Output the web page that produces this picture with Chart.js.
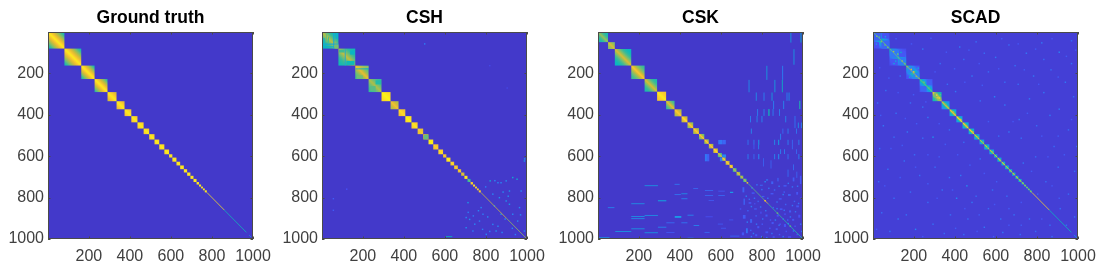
<!DOCTYPE html>
<html>
<head>
<meta charset="utf-8">
<title>Ground truth, CSH, CSK, SCAD</title>
<script src="https://cdn.jsdelivr.net/npm/chart.js@4/dist/chart.umd.min.js"></script>
<style>
  html, body { margin: 0; background: #fff; overflow: hidden; }
  #wrap { position: relative; width: 1105px; height: 275px; }
  canvas { position: absolute; top: 0; }
</style>
</head>
<body>
<div id="wrap"></div>
<script>
const panelTitles = ['Ground truth', 'CSH', 'CSK', 'SCAD'];
const tickValues = [200, 400, 600, 800, 1000];
const tickLabels = ['200', '400', '600', '800', '1000'];

// block ends along the diagonal (matrix index)
const sharedEnds = [81, 163, 228, 291, 335, 374, 407, 437, 467, 494, 520, 543, 568, 591, 607, 627, 645, 663, 679, 695, 710, 725, 737, 747, 756, 765, 775];
const cskEnds = [50, 83, 163, 228, 289, 333, 374, 408, 437, 465, 493, 519, 541, 563, 585, 605, 623, 642, 658, 676, 694, 709, 725, 733];

// value at the block corners and on the block diagonal
const gtCorner = [0.36, 0.38, 0.4, 0.44, 0.72, 0.76, 0.82, 0.84, 0.86, 0.86, 0.86, 0.88, 0.88, 0.88, 0.9, 0.9, 0.9, 0.9, 0.9, 0.92, 0.92, 0.92, 0.92, 0.94, 0.94, 0.94, 0.94];
const gtDiag = [0.98, 0.98, 0.98, 0.98, 0.98, 0.98, 0.98, 0.98, 0.98, 0.98, 0.98, 0.98, 0.98, 0.98, 0.98, 0.98, 0.98, 0.98, 0.98, 0.98, 0.98, 0.98, 0.98, 0.98, 0.98, 0.98, 0.98];
const cshCorner = [0.38, 0.42, 0.52, 0.5, 0.93, 0.7, 0.84, 0.93, 0.88, 0.82, 0.68, 0.95, 0.84, 0.88, 0.8, 0.92, 0.85, 0.82, 0.78, 0.7, 0.92, 0.45, 0.8, 0.9, 0.9, 0.86, 0.86];
const cshDiag = [0.72, 0.74, 0.82, 0.7, 1.0, 0.85, 0.95, 1.0, 0.97, 0.88, 0.82, 1.0, 0.9, 0.95, 0.9, 1.0, 0.95, 0.9, 0.9, 0.85, 1.0, 0.62, 0.95, 0.95, 0.95, 0.92, 0.9];
const cskCorner = [0.42, 0.62, 0.38, 0.5, 0.44, 0.86, 0.5, 0.68, 0.72, 0.62, 0.66, 0.56, 0.62, 0.66, 0.72, 0.5, 0.62, 0.7, 0.76, 0.52, 0.6, 0.56, 0.5, 0.7];
const cskDiag = [0.66, 0.78, 0.78, 0.88, 0.78, 0.98, 0.82, 0.9, 0.96, 0.9, 0.9, 0.88, 0.9, 0.9, 0.95, 0.78, 0.92, 0.92, 0.95, 0.72, 0.82, 0.78, 0.72, 0.92];
const scadCorner = [0.09, 0.09, 0.1, 0.1, 0.42, 0.2, 0.28, 0.26, 0.3, 0.3, 0.24, 0.22, 0.24, 0.24, 0.26, 0.3, 0.3, 0.28, 0.3, 0.32, 0.32, 0.32, 0.32, 0.4, 0.4, 0.4, 0.4];
const scadDiag = [0.52, 0.54, 0.68, 0.5, 0.96, 0.8, 0.88, 0.94, 0.9, 0.9, 0.8, 0.74, 0.78, 0.8, 0.84, 0.86, 0.86, 0.78, 0.86, 0.88, 0.88, 0.84, 0.9, 0.9, 0.9, 0.9, 0.9];

// thin diagonal runs, from, to, value
const gtRuns = [[775, 860, 0.95], [860, 968, 0.42], [982, 990, 0.3]];
const cshRuns = [[775, 900, 0.76], [900, 995, 0.66]];
const cskRuns = [[733, 810, 0.56], [810, 830, 0.86], [830, 900, 0.5], [900, 998, 0.46]];
const scadRuns = [[4, 80, 0.58], [84, 162, 0.6], [166, 228, 0.72], [230, 290, 0.58], [775, 860, 0.92], [860, 968, 0.4], [980, 995, 0.3]];

// rectangles off the blocks: x from, x to, y from, y to, value
const cshStreaks = [
  [2, 81, 57, 62, 0.3], [2, 58, 70, 74, 0.34], [56, 61, 2, 81, 0.3], [62, 81, 62, 81, 0.6],
  [20, 25, 10, 50, 0.58], [30, 35, 25, 56, 0.54], [8, 13, 30, 52, 0.34], [68, 76, 4, 34, 0.34],
  [112, 116, 85, 163, 0.3], [84, 110, 86, 100, 0.52], [120, 160, 140, 160, 0.42], [138, 160, 90, 110, 0.38],
  [165, 228, 168, 172, 0.86], [165, 228, 177, 181, 0.36], [170, 200, 210, 226, 0.6],
  [236, 262, 262, 286, 0.56], [262, 288, 234, 254, 0.46], [498, 518, 498, 518, 0.58],
  [603, 636, 987, 991, 0.4]
];
const cshSpeckles = [
  [817, 716, 0.32], [927, 700, 0.34], [895, 716, 0.22], [855, 725, 0.2], [948, 708, 0.36], [984, 620, 0.26],
  [709, 821, 0.26], [773, 845, 0.2], [700, 893, 0.2], [717, 902, 0.22], [765, 910, 0.18], [911, 765, 0.24],
  [862, 797, 0.22], [968, 765, 0.2], [838, 837, 0.22], [911, 829, 0.26], [700, 942, 0.22], [830, 926, 0.2],
  [846, 958, 0.22], [870, 877, 0.24], [927, 877, 0.2], [960, 845, 0.2], [53, 802, 0.12], [53, 858, 0.12],
  [498, 55, 0.18], [118, 756, 0.1], [798, 974, 0.2], [733, 958, 0.18], [782, 877, 0.18], [984, 958, 0.2],
  [830, 780, 0.2], [895, 813, 0.24], [951, 910, 0.2], [880, 770, 0.22], [905, 790, 0.22], [760, 860, 0.2],
  [742, 925, 0.2], [805, 890, 0.2], [855, 935, 0.2], [890, 900, 0.2], [925, 945, 0.2], [965, 880, 0.2],
  [710, 868, 0.18], [735, 885, 0.18], [780, 950, 0.18], [815, 960, 0.18], [875, 965, 0.2], [940, 975, 0.18],
  [985, 610, 0.26], [815, 160, 0.08], [900, 268, 0.08], [870, 725, 0.2], [795, 745, 0.18], [840, 715, 0.2]
];
const cskStreaks = [
  [939, 943, 3, 52, 0.3], [988, 992, 3, 52, 0.4], [954, 958, 84, 159, 0.28], [822, 826, 164, 232, 0.3],
  [899, 903, 164, 232, 0.2], [735, 739, 232, 292, 0.25], [861, 865, 232, 292, 0.3], [897, 901, 232, 292, 0.38],
  [770, 774, 293, 333, 0.25], [808, 812, 293, 333, 0.2], [847, 851, 293, 333, 0.3], [920, 924, 293, 333, 0.2],
  [930, 934, 293, 333, 0.25], [855, 859, 333, 373, 0.2], [904, 908, 333, 373, 0.22], [982, 987, 333, 373, 0.45],
  [777, 781, 373, 406, 0.2], [808, 812, 373, 406, 0.22], [831, 837, 373, 406, 0.42], [852, 856, 373, 406, 0.2],
  [884, 888, 373, 406, 0.2], [742, 746, 406, 437, 0.2], [774, 778, 406, 437, 0.22], [798, 802, 406, 437, 0.22],
  [914, 918, 406, 437, 0.22], [959, 963, 406, 465, 0.18], [975, 979, 438, 465, 0.25], [990, 994, 438, 465, 0.2],
  [746, 750, 467, 492, 0.22], [900, 904, 467, 492, 0.15], [925, 929, 467, 492, 0.2], [966, 970, 467, 492, 0.18],
  [889, 893, 492, 521, 0.2], [730, 734, 521, 546, 0.18], [759, 763, 521, 546, 0.18], [782, 787, 521, 546, 0.25],
  [860, 864, 521, 546, 0.25], [879, 884, 521, 546, 0.28], [925, 929, 521, 546, 0.2], [946, 950, 521, 546, 0.15],
  [978, 982, 521, 546, 0.2], [759, 763, 546, 567, 0.12], [782, 786, 546, 567, 0.2], [889, 893, 567, 590, 0.2],
  [908, 912, 567, 590, 0.2], [966, 970, 567, 590, 0.15], [946, 950, 546, 567, 0.15], [730, 734, 590, 615, 0.2],
  [759, 763, 590, 615, 0.15], [782, 787, 590, 615, 0.2], [860, 864, 590, 615, 0.22], [879, 884, 590, 615, 0.22],
  [925, 929, 590, 615, 0.18], [978, 982, 590, 615, 0.2], [806, 810, 610, 650, 0.14], [842, 846, 620, 660, 0.14],
  [952, 956, 640, 668, 0.16], [925, 929, 665, 700, 0.16], [968, 972, 675, 705, 0.14],
  [587, 606, 522, 543, 0.17], [606, 624, 522, 543, 0.14], [522, 532, 590, 625, 0.17], [532, 543, 590, 625, 0.13],
  [595, 606, 606, 625, 0.18], [606, 625, 592, 606, 0.2],
  [228, 293, 741, 744, 0.28], [374, 399, 734, 737, 0.18], [374, 405, 784, 787, 0.18], [407, 437, 780, 783, 0.26],
  [407, 437, 804, 807, 0.22], [465, 489, 755, 757, 0.15], [522, 562, 764, 767, 0.15], [587, 619, 767, 769, 0.12],
  [522, 562, 788, 790, 0.15], [587, 619, 788, 790, 0.15], [540, 566, 812, 814, 0.12], [644, 660, 772, 778, 0.26],
  [293, 334, 813, 818, 0.3], [163, 228, 828, 831, 0.26], [49, 81, 847, 850, 0.22], [163, 228, 889, 892, 0.26],
  [163, 228, 900, 903, 0.26], [228, 293, 884, 887, 0.26], [163, 228, 949, 952, 0.28], [85, 163, 962, 965, 0.28],
  [228, 293, 968, 971, 0.28], [293, 334, 941, 944, 0.22], [375, 407, 889, 898, 0.26], [334, 374, 920, 923, 0.16],
  [407, 437, 920, 923, 0.18], [437, 467, 883, 886, 0.22], [467, 494, 933, 936, 0.22], [5, 57, 992, 995, 0.28],
  [437, 467, 994, 998, 0.24], [334, 374, 967, 969, 0.12], [520, 545, 966, 969, 0.15], [585, 610, 926, 929, 0.12],
  [640, 660, 906, 909, 0.12], [525, 560, 891, 893, 0.1], [600, 625, 946, 948, 0.12], [645, 690, 984, 986, 0.14],
  [705, 714, 750, 775, 0.13], [750, 764, 775, 782, 0.12], [790, 804, 738, 743, 0.14], [820, 830, 712, 718, 0.17],
  [845, 855, 722, 735, 0.13], [875, 881, 705, 722, 0.13], [905, 920, 740, 747, 0.12], [950, 958, 703, 722, 0.12],
  [985, 992, 695, 735, 0.11], [710, 717, 805, 835, 0.13], [735, 748, 822, 830, 0.11], [762, 775, 852, 858, 0.12],
  [800, 812, 792, 798, 0.12], [842, 856, 778, 785, 0.11], [882, 896, 803, 810, 0.11], [927, 940, 783, 792, 0.13],
  [967, 976, 773, 786, 0.11], [707, 720, 884, 902, 0.12], [742, 752, 904, 922, 0.13], [777, 787, 938, 948, 0.11],
  [817, 827, 882, 892, 0.12], [847, 857, 918, 928, 0.11], [887, 900, 852, 860, 0.11], [932, 942, 862, 872, 0.12],
  [967, 980, 838, 847, 0.11], [722, 731, 948, 972, 0.16], [767, 777, 977, 987, 0.11], [817, 830, 963, 972, 0.11],
  [867, 877, 948, 957, 0.11], [907, 917, 928, 942, 0.11], [947, 957, 903, 912, 0.11], [977, 987, 883, 897, 0.1],
  [702, 713, 968, 982, 0.11], [852, 862, 987, 994, 0.11], [927, 942, 987, 994, 0.1], [692, 699, 852, 858, 0.11],
  [792, 798, 868, 878, 0.1], [762, 768, 827, 833, 0.1], [872, 882, 882, 892, 0.1], [907, 917, 877, 883, 0.1]
];
const cskSpeckles = [
  [812, 720, 0.2], [748, 750, 0.18], [796, 758, 0.16], [858, 760, 0.14], [905, 770, 0.12], [945, 745, 0.16],
  [735, 805, 0.14], [778, 815, 0.13], [852, 845, 0.13], [912, 830, 0.13], [955, 815, 0.13], [985, 800, 0.11],
  [728, 860, 0.13], [768, 885, 0.13], [838, 905, 0.11], [885, 925, 0.11], [922, 905, 0.13], [958, 935, 0.11],
  [742, 955, 0.13], [798, 925, 0.11], [835, 945, 0.11], [882, 975, 0.11], [915, 960, 0.11], [968, 975, 0.11],
  [812, 812, 0.88], [872, 872, 0.66], [935, 935, 0.62],
  [772, 735, 0.16], [830, 752, 0.16], [880, 742, 0.16], [925, 728, 0.16], [970, 742, 0.16], [720, 790, 0.18],
  [760, 800, 0.16], [825, 800, 0.16], [870, 818, 0.16], [900, 782, 0.18], [945, 835, 0.16], [975, 825, 0.16],
  [745, 840, 0.18], [790, 842, 0.16], [815, 860, 0.16], [870, 850, 0.18], [905, 858, 0.16], [960, 865, 0.16],
  [725, 915, 0.18], [770, 925, 0.16], [800, 900, 0.16], [862, 905, 0.18], [900, 900, 0.16], [935, 890, 0.16],
  [985, 925, 0.16], [755, 970, 0.18], [795, 985, 0.16], [845, 970, 0.16], [900, 985, 0.16], [950, 958, 0.18],
  [990, 960, 0.16], [710, 995, 0.16], [745, 985, 0.16], [820, 990, 0.16], [880, 930, 0.16], [925, 922, 0.18]
];
const scadStreaks = [
  [6, 42, 6, 42, 0.13], [42, 81, 42, 81, 0.14], [6, 30, 50, 78, 0.1], [45, 76, 8, 32, 0.1],
  [85, 125, 85, 125, 0.17], [125, 160, 125, 160, 0.18], [90, 122, 130, 160, 0.11], [128, 158, 92, 122, 0.11],
  [168, 198, 168, 198, 0.19], [198, 226, 198, 226, 0.19], [232, 262, 262, 288, 0.14], [262, 288, 234, 258, 0.13],
  [296, 316, 296, 316, 0.62], [316, 333, 316, 333, 0.66]
];
const scadSpeckles = [
  [16, 18, 0.62], [28, 22, 0.55], [38, 44, 0.6], [56, 60, 0.58], [70, 72, 0.6], [14, 56, 0.25], [58, 20, 0.28],
  [98, 92, 0.68], [118, 104, 0.62], [108, 138, 0.3], [134, 96, 0.36], [140, 138, 0.68], [152, 150, 0.62], [100, 150, 0.3],
  [184, 178, 0.8], [196, 190, 0.82], [208, 212, 0.62], [176, 216, 0.32], [218, 172, 0.3], [246, 240, 0.6], [270, 268, 0.56],
  [308, 302, 0.9], [320, 316, 0.92], [326, 300, 0.56], [304, 324, 0.56], [352, 346, 0.6], [390, 384, 0.72], [425, 420, 0.84],
  [452, 450, 0.72], [484, 480, 0.76], [508, 504, 0.62], [534, 530, 0.58], [556, 556, 0.56], [580, 576, 0.6], [617, 617, 0.7],
  [240, 80, 0.17], [325, 150, 0.15], [420, 70, 0.17], [500, 45, 0.15], [595, 120, 0.17], [660, 60, 0.15], [745, 100, 0.17],
  [820, 50, 0.17], [905, 95, 0.2], [965, 40, 0.15], [130, 210, 0.15], [60, 280, 0.16], [20, 340, 0.15], [110, 390, 0.16],
  [48, 450, 0.17], [165, 480, 0.17], [240, 510, 0.15], [290, 505, 0.24], [370, 470, 0.15], [440, 530, 0.15], [520, 610, 0.15],
  [610, 500, 0.15], [660, 480, 0.17], [720, 510, 0.15], [705, 250, 0.15], [780, 210, 0.17], [865, 180, 0.15], [935, 240, 0.17],
  [590, 310, 0.2], [480, 210, 0.17], [400, 285, 0.17], [520, 330, 0.15], [640, 350, 0.17], [760, 320, 0.17], [830, 290, 0.17],
  [905, 370, 0.17], [975, 310, 0.15], [710, 420, 0.17], [795, 450, 0.15], [860, 400, 0.17], [950, 470, 0.15], [990, 550, 0.15],
  [880, 550, 0.15], [790, 600, 0.15], [730, 630, 0.17], [900, 650, 0.15], [980, 670, 0.15], [840, 720, 0.15], [950, 780, 0.15],
  [910, 850, 0.15], [980, 890, 0.15], [860, 930, 0.15], [760, 900, 0.16], [685, 880, 0.16], [650, 790, 0.15], [580, 760, 0.16],
  [500, 790, 0.15], [455, 740, 0.22], [425, 690, 0.17], [370, 700, 0.15], [300, 650, 0.15], [225, 690, 0.15], [150, 620, 0.16],
  [70, 660, 0.16], [25, 720, 0.15], [100, 800, 0.15], [180, 770, 0.15], [265, 820, 0.15], [335, 760, 0.16], [405, 800, 0.2],
  [480, 820, 0.17], [560, 850, 0.15], [620, 900, 0.15], [540, 940, 0.17], [460, 900, 0.15], [375, 880, 0.15], [290, 925, 0.16],
  [205, 950, 0.2], [120, 900, 0.17], [40, 870, 0.15], [80, 960, 0.16], [160, 880, 0.16], [345, 970, 0.15], [440, 975, 0.15],
  [630, 965, 0.17], [715, 975, 0.15], [790, 960, 0.15], [870, 985, 0.15], [940, 930, 0.15], [30, 560, 0.15], [200, 590, 0.15],
  [265, 410, 0.17], [100, 505, 0.15], [180, 340, 0.15], [240, 360, 0.16], [360, 250, 0.15], [440, 130, 0.15],
  [560, 190, 0.15], [640, 240, 0.15], [690, 160, 0.16], [830, 130, 0.15], [965, 150, 0.16], [995, 230, 0.15], [540, 100, 0.15],
  [110, 30, 0.12], [185, 55, 0.11], [280, 28, 0.12], [355, 95, 0.11], [465, 85, 0.12], [515, 150, 0.11], [625, 30, 0.12],
  [705, 55, 0.11], [790, 80, 0.12], [870, 30, 0.11], [940, 115, 0.12], [985, 85, 0.11], [300, 190, 0.11], [395, 175, 0.12],
  [445, 240, 0.11], [530, 255, 0.12], [610, 175, 0.11], [735, 180, 0.12], [805, 250, 0.11], [900, 215, 0.12], [30, 170, 0.11],
  [75, 220, 0.12], [120, 290, 0.11], [195, 300, 0.12], [255, 335, 0.11], [35, 400, 0.12], [155, 415, 0.11], [210, 440, 0.12],
  [320, 440, 0.11], [350, 540, 0.12], [85, 560, 0.11], [140, 545, 0.12], [265, 590, 0.11], [320, 600, 0.12], [410, 590, 0.11],
  [470, 640, 0.12], [540, 680, 0.11], [600, 720, 0.12], [690, 690, 0.11], [770, 670, 0.12], [850, 600, 0.11], [930, 590, 0.12],
  [820, 500, 0.11], [900, 500, 0.12], [965, 420, 0.11], [750, 390, 0.12], [680, 430, 0.11], [560, 430, 0.12], [55, 740, 0.11],
  [130, 700, 0.12], [205, 650, 0.11], [265, 730, 0.12], [310, 800, 0.11], [385, 760, 0.12], [445, 850, 0.11], [515, 880, 0.12],
  [590, 830, 0.11], [660, 850, 0.12], [720, 820, 0.11], [800, 780, 0.12], [870, 740, 0.11], [905, 800, 0.12], [820, 900, 0.11],
  [720, 930, 0.12], [660, 930, 0.11], [585, 985, 0.12], [505, 960, 0.11], [400, 945, 0.12], [240, 985, 0.11], [15, 950, 0.12]
];

const parula = [[62, 38, 168], [72, 80, 244], [40, 135, 245], [18, 165, 222], [8, 185, 190], [50, 186, 155], [115, 190, 115], [175, 190, 70], [228, 186, 50], [252, 205, 45], [250, 245, 20]];

function colorOf(v) {
  const t = Math.min(Math.max(v, 0), 1) * 10;
  const i = Math.min(Math.floor(t), 9);
  const c = parula[i].map((a, k) => Math.round(a + (parula[i + 1][k] - a) * (t - i)));
  return `rgb(${c[0]},${c[1]},${c[2]})`;
}

function blockPoints(ends, corner, diag) {
  let from = 1;
  return ends.map((to, i) => {
    const p = { x: from, y: from, x1: to, y1: to, corner: corner[i], diag: diag[i] };
    from = to;
    return p;
  });
}

const rectPoints = list => list.map(r => ({ x: r[0], x1: r[1], y: r[2], y1: r[3], v: r[4] }));
const dotPoints = list => list.map(r => ({ x: r[0], x1: r[0] + 7, y: r[1], y1: r[1] + 7, v: r[2] }));
const runPoints = list => list.map(r => ({ x: r[0], x1: r[1], y: r[0], y1: r[1], v: r[2] }));

const panels = [
  { left: 48, base: 0.045, sharp: 1, ends: sharedEnds, corner: gtCorner, diag: gtDiag, runs: gtRuns, streaks: [], dots: [] },
  { left: 322, base: 0.045, sharp: 2, ends: sharedEnds, corner: cshCorner, diag: cshDiag, runs: cshRuns, streaks: cshStreaks, dots: cshSpeckles },
  { left: 598, base: 0.045, sharp: 2, ends: cskEnds, corner: cskCorner, diag: cskDiag, runs: cskRuns, streaks: cskStreaks, dots: cskSpeckles },
  { left: 873, base: 0.06, sharp: 3, ends: sharedEnds, corner: scadCorner, diag: scadDiag, runs: scadRuns, streaks: scadStreaks, dots: scadSpeckles }
];

function fillCell(ctx, x, y, r) {
  const x0 = x.getPixelForValue(r.x), y0 = y.getPixelForValue(r.y);
  ctx.fillStyle = colorOf(r.v);
  ctx.fillRect(x0, y0, Math.max(x.getPixelForValue(r.x1) - x0, 0.8), Math.max(y.getPixelForValue(r.y1) - y0, 0.8));
}

// heatmap painter: cells live in the datasets, pixels come from the scales
const heatmapPlugin = {
  id: 'heatmap',
  beforeDatasetsDraw(chart, args, opts) {
    const { ctx, chartArea: a, scales: { x, y } } = chart;
    ctx.save();
    ctx.beginPath();
    ctx.rect(a.left, a.top, a.width, a.height);
    ctx.clip();
    ctx.fillStyle = colorOf(opts.base);
    ctx.fillRect(a.left, a.top, a.width, a.height);
    ctx.filter = 'blur(0.4px)';

    chart.data.datasets[0].data.forEach(b => {
      const x0 = x.getPixelForValue(b.x), x1 = x.getPixelForValue(b.x1);
      const y0 = y.getPixelForValue(b.y), y1 = y.getPixelForValue(b.y1);
      const g = ctx.createLinearGradient(x1, y0, x0, y1);
      for (let s = 0; s <= 16; s++) {
        const p = 1 - Math.abs(s / 8 - 1);
        g.addColorStop(s / 16, colorOf(b.corner + (b.diag - b.corner) * Math.pow(p, opts.sharp)));
      }
      ctx.fillStyle = g;
      ctx.fillRect(x0, y0, x1 - x0, y1 - y0);
    });

    chart.data.datasets[1].data.forEach(r => fillCell(ctx, x, y, r));

    ctx.filter = 'blur(0.7px)';
    chart.data.datasets[2].data.forEach(r => fillCell(ctx, x, y, r));

    ctx.filter = 'blur(0.25px)';
    chart.data.datasets[3].data.forEach(r => {
      ctx.strokeStyle = colorOf(r.v);
      ctx.lineWidth = 0.75;
      ctx.beginPath();
      ctx.moveTo(x.getPixelForValue(r.x), y.getPixelForValue(r.y));
      ctx.lineTo(x.getPixelForValue(r.x1), y.getPixelForValue(r.y1));
      ctx.stroke();
    });
    ctx.restore();
  },
  afterDatasetsDraw(chart) {
    const { ctx, chartArea: a, scales: { x, y } } = chart;
    ctx.save();
    ctx.strokeStyle = '#4a4a4a';
    ctx.lineWidth = 1;
    ctx.strokeRect(a.left + 0.5, a.top + 0.5, a.width - 1, a.height - 1);
    ctx.beginPath();
    x.ticks.forEach(t => {
      const px = Math.round(x.getPixelForValue(t.value)) + 0.5;
      ctx.moveTo(px, a.top); ctx.lineTo(px, a.top + 2.5);
      ctx.moveTo(px, a.bottom); ctx.lineTo(px, a.bottom - 2.5);
    });
    y.ticks.forEach(t => {
      const py = Math.round(y.getPixelForValue(t.value)) + 0.5;
      ctx.moveTo(a.left, py); ctx.lineTo(a.left + 2.5, py);
      ctx.moveTo(a.right, py); ctx.lineTo(a.right - 2.5, py);
    });
    ctx.stroke();
    ctx.restore();
  }
};

function axisOptions(reverse, fit) {
  return {
    type: 'linear',
    min: 1,
    max: 1000,
    reverse,
    afterBuildTicks: s => { s.ticks = tickValues.map(value => ({ value })); },
    afterFit: fit,
    grid: { display: false, drawTicks: false, tickLength: 0 },
    border: { display: false },
    ticks: {
      autoSkip: false,
      maxRotation: 0,
      padding: reverse ? 4 : 8,
      color: '#404040',
      font: { family: '"Liberation Sans", Arial, sans-serif', size: 16 },
      callback: v => tickLabels[tickValues.indexOf(v)]
    }
  };
}

panels.forEach((p, i) => {
  const canvas = document.createElement('canvas');
  canvas.width = 276;
  canvas.height = 275;
  canvas.style.left = (p.left - 48) + 'px';
  document.getElementById('wrap').appendChild(canvas);

  new Chart(canvas, {
    type: 'scatter',
    data: {
      datasets: [
        { label: 'blocks', data: blockPoints(p.ends, p.corner, p.diag), pointRadius: 0 },
        { label: 'streaks', data: rectPoints(p.streaks), pointRadius: 0 },
        { label: 'speckles', data: dotPoints(p.dots), pointRadius: 0 },
        { label: 'diagonal', data: runPoints(p.runs), pointRadius: 0 }
      ]
    },
    options: {
      responsive: false,
      animation: false,
      layout: { padding: { left: 0, right: 23, top: 0, bottom: 0 } },
      scales: {
        x: axisOptions(false, s => { s.height = 36; s.paddingLeft = 0; s.paddingRight = 0; }),
        y: axisOptions(true, s => { s.width = 48; s.paddingTop = 0; s.paddingBottom = 0; })
      },
      plugins: {
        legend: { display: false },
        tooltip: { enabled: false },
        title: {
          display: true,
          text: panelTitles[i],
          fullSize: false,
          color: '#000',
          font: { family: '"Liberation Sans", Arial, sans-serif', size: 17.5, weight: 'bold', lineHeight: 1.2 },
          padding: { top: 8, bottom: 3 }
        },
        heatmap: { base: p.base, sharp: p.sharp }
      }
    },
    plugins: [heatmapPlugin]
  });
});
</script>
</body>
</html>
